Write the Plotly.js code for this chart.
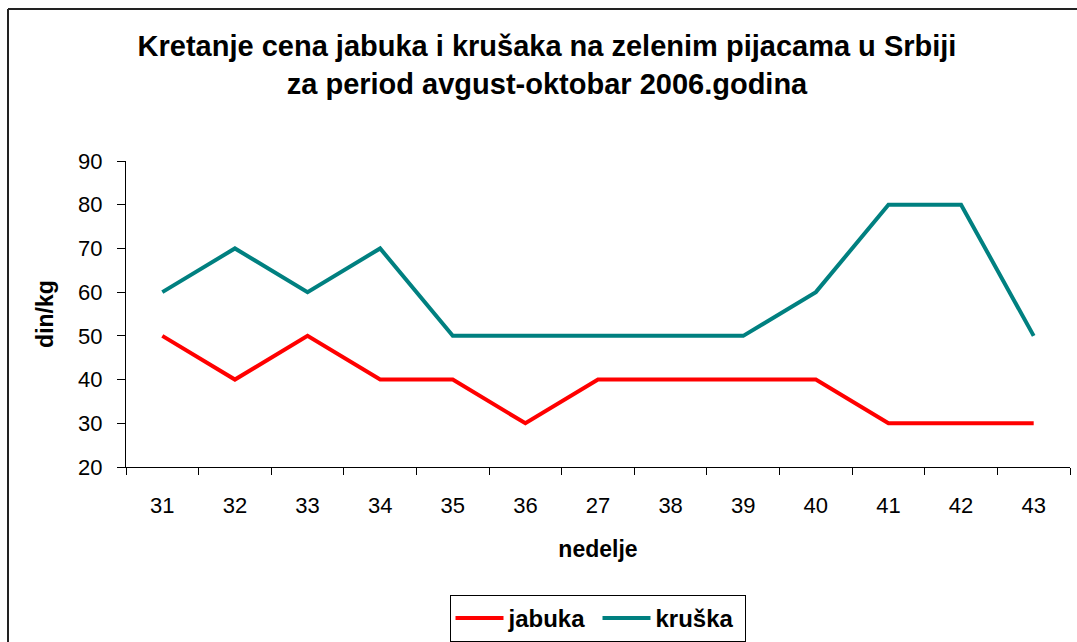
<!DOCTYPE html>
<html>
<head>
<meta charset="utf-8">
<script src="https://cdn.plot.ly/plotly-3.0.1.min.js"></script>
<style>
html,body{margin:0;padding:0;background:#fff;}
#chart{width:1077px;height:642px;}
</style>
</head>
<body>
<div id="chart"></div>
<script>
var weeks = ["31","32","33","34","35","36","27","38","39","40","41","42","43"];
var jabuka = [50,40,50,40,40,30,40,40,40,40,30,30,30];
var kruska = [60,70,60,70,50,50,50,50,50,60,80,80,50];
var yTicks = [20,30,40,50,60,70,80,90];

var L = 126, R = 1070, T = 161, B = 467, W = 1077, H = 642;
function px(x){return (x - L)/(R - L);}
function py(y){return (B - y)/(B - T);}
var FONT = "Liberation Sans, Arial, sans-serif";

var traces = [
  {x: weeks, y: jabuka, name: "jabuka", type: "scatter", mode: "lines",
   line: {color: "#FF0000", width: 4}},
  {x: weeks, y: kruska, name: "kruška", type: "scatter", mode: "lines",
   line: {color: "#008080", width: 4}}
];

var layout = {
  width: W, height: H,
  margin: {l: L, r: W - R, t: T, b: H - B, pad: 0, autoexpand: false},
  paper_bgcolor: "#fff", plot_bgcolor: "#fff",
  font: {family: FONT, color: "#000"},
  title: {
    text: "<b>Kretanje cena jabuka i krušaka na zelenim pijacama u Srbiji<br>za period avgust-oktobar 2006.godina</b>",
    font: {size: 29, family: FONT, color: "#000"},
    x: 547/W, xanchor: "center", y: 1 - 56/H, yanchor: "middle", yref: "container"
  },
  xaxis: {
    type: "category", categoryorder: "array", categoryarray: weeks,
    tickson: "boundaries", ticks: "outside", ticklen: 7, tickcolor: "#000", tickwidth: 1,
    showline: true, linecolor: "#000", linewidth: 1, showgrid: false, zeroline: false,
    tickfont: {size: 22}, ticklabelstandoff: 19, range: [-0.5, 12.5], fixedrange: true,
    automargin: false,
    title: {text: "<b>nedelje</b>", font: {size: 23}, standoff: 23}
  },
  yaxis: {
    range: [20, 90], tickvals: yTicks, ticktext: yTicks.map(String),
    ticks: "outside", ticklen: 8, tickcolor: "#000", tickwidth: 1,
    showline: true, linecolor: "#000", linewidth: 1, showgrid: false, zeroline: false,
    tickfont: {size: 22}, ticklabelstandoff: 10, fixedrange: true, automargin: false,
    title: {text: "<b>din/kg</b>", font: {size: 23}, standoff: 18}
  },
  showlegend: true,
  legend: {
    orientation: "h", x: px(597.5), xanchor: "center", y: py(595), yanchor: "top",
    bordercolor: "#000", borderwidth: 1, bgcolor: "#fff",
    font: {size: 24, color: "#000", family: FONT, weight: "bold"},
    tracegroupgap: 0, itemwidth: 48, entrywidth: 84, entrywidthmode: "pixels"
  },
  shapes: [
    {type: "line", xref: "paper", yref: "paper", x0: px(8), x1: px(1085), y0: py(9), y1: py(9),
     line: {color: "#222", width: 2}},
    {type: "line", xref: "paper", yref: "paper", x0: px(8), x1: px(8), y0: py(9), y1: py(660),
     line: {color: "#222", width: 2}}
  ]
};

Plotly.newPlot("chart", traces, layout, {displayModeBar: false, staticPlot: true});
</script>
</body>
</html>
